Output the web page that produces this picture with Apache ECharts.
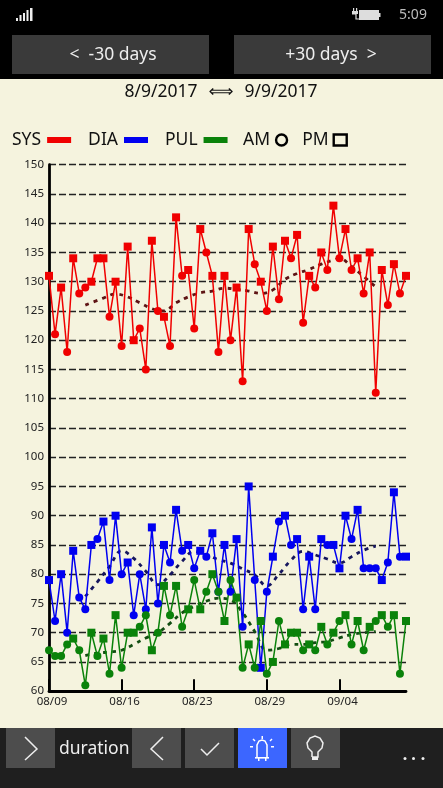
<!DOCTYPE html>
<html><head><meta charset="utf-8">
<style>html,body{margin:0;padding:0;background:#000}#c{width:443px;height:788px}</style>
<script src="https://cdn.jsdelivr.net/npm/echarts@6/dist/echarts.min.js"></script>
</head><body><div id="c"></div>
<script>
const tickLabels = ['08/09','08/16','08/23','08/29','09/04'];
const sys = [131,121,129,118,134,128,129,130,134,134,124,130,119,136,120,122,115,137,125,124,119,141,131,132,122,139,135,131,118,131,120,129,113,139,133,130,125,136,127,137,134,138,123,131,129,135,132,143,134,139,132,134,128,135,111,132,126,133,128,131];
const dia = [79,72,80,70,84,76,74,85,86,89,79,90,80,82,73,80,74,88,75,85,82,91,84,85,81,84,83,87,77,85,77,86,71,95,79,64,77,83,89,90,85,86,74,83,74,86,85,85,81,90,86,91,81,81,81,79,82,94,83,83];
const pul = [67,66,66,68,69,67,61,70,66,69,63,73,64,70,70,71,73,67,70,78,73,78,71,74,79,74,77,80,77,72,79,76,64,68,64,72,63,65,72,68,70,70,67,68,67,71,68,70,72,73,68,72,67,71,72,73,71,73,63,72];
const sysShape = 'scscsccsss' + 'cscsscc' + 'scs' + 'cscscscscs' + 'cscscscscs' + 'cscscscscs' + 'cscscscscs';
const diaShape = 'scscsccscs' + 'cscsccc' + 'scs' + 'cscscscscs' + 'cscscscscs' + 'cscscscsss'.slice(0, 10) + 'csccc' + 'scscs';
const pulShape = 'ccccsccscs' + 'cscsscc' + 'scs' + 'cscscscscs' + 'cscscscscs' + 'sscscscscs' + 'cscscscscs';
const sysAvgIdx = [6,9,11,13,15,17,19,21,23,25,27,29,31,33,35,37,39,41,43,45,47,48,50,52,54];
const sysAvg = [126,127.2,127.9,127.4,126.4,125.4,125,126.4,127.4,128.1,128.4,128.9,128.7,128.4,128,128.6,130.4,131.4,132.1,133,133.7,134,132.6,130.9,129.1];
const diaAvgIdx = [6,8,10,12,14,16,18,20,22,24,26,28,30,32,34,36,38,40,42,44,46,48,50,52,54];
const diaAvg = [76.2,78.7,81.3,84,82.7,80.5,78.2,79.9,82.2,83.9,83.3,82.5,81.9,80.9,79.9,78,80,82.4,83.9,83.3,82.6,81.9,83,84.1,84.8];
const pulAvg = [66.1,66.5,66.7,67,68,69.1,70,71.6,73.4,74.5,75.4,75.9,75.6,73.4,70.2,67,67.3,68,68,68.3,68.5,69.1,69.7,70,70.2];
const categories = sys.map((_, i) => String(i));

const FONT = '"Noto Sans", "Open Sans", sans-serif';
const marks = (vals, shapes) => vals.map((v, i) => ({ value: v, symbol: shapes[i] === 's' ? 'rect' : 'circle' }));
const sparse = (idx, vals) => idx.map((i, k) => [i, vals[k]]);
const lineSeries = (name, vals, shapes, color) => ({
  name, type: 'line', data: marks(vals, shapes), symbolSize: 8, showSymbol: true, showAllSymbol: true, z: 5,
  lineStyle: { color, width: 1.5 }, itemStyle: { color }, silent: true, animation: false
});
const avgSeries = (name, idx, vals, color) => ({
  name, type: 'line', data: sparse(idx, vals), showSymbol: false, symbol: 'none', smooth: 0.4, z: 4,
  lineStyle: { color, width: 2.8, type: [4, 5] }, silent: true, animation: false
});
const txt = (x, y, text, size, fill, align, family) => ({
  type: 'text', x, y, silent: true, z: 20,
  style: { text, fontSize: size, fill, align: align || 'center', verticalAlign: 'middle', fontFamily: family || FONT }
});
const rect = (x, y, w, h, fill, z) => ({ type: 'rect', silent: true, z: z || 10, shape: { x, y, width: w, height: h }, style: { fill } });
const pl = (points, stroke, w) => ({ type: 'polyline', silent: true, z: 20, shape: { points }, style: { stroke, lineWidth: w || 1.5, fill: null } });

const graphics = [
  rect(0, 0, 443, 79, '#000'),
  rect(0, 728, 443, 60, '#1f1f1f'),
  rect(12, 35, 197, 39, '#3a3a3a'),
  rect(234, 35, 197, 39, '#3a3a3a'),
  txt(113, 55, '<  -30 days', 17.5, '#eee'),
  txt(331, 55, '+30 days  >', 17.5, '#eee'),
  rect(16, 18, 2, 3, '#eee'), rect(19.5, 15, 2, 6, '#eee'), rect(23, 13, 2, 8, '#eee'), rect(26.5, 10, 2, 11, '#eee'), rect(30, 8, 2.5, 13, '#eee'),
  rect(359, 10, 20, 10, '#ddd'), rect(379, 13, 1.5, 4, '#ddd'),
  pl([[352, 14], [356, 14], [356, 19], [359, 19]], '#ddd', 1.2),
  rect(353, 8, 1.2, 4, '#ddd'), rect(356, 8, 1.2, 4, '#ddd'), rect(352, 11, 6, 3, '#ddd'),
  txt(413, 15, '5:09', 14, '#bbb'),
  txt(161, 92, '8/9/2017', 17.5, '#111'),
  txt(221, 92, '\u27FA', 17.5, '#111', 'center', '"DejaVu Sans"'),
  txt(281, 92, '9/9/2017', 17.5, '#111'),
  rect(6, 728, 49, 40, '#4d4d4d'), rect(132, 728, 49, 40, '#4d4d4d'), rect(185, 728, 49, 40, '#4d4d4d'),
  rect(238, 728, 49, 40, '#3c66ff'), rect(291, 728, 49, 40, '#4d4d4d'),
  pl([[25, 737], [37, 749], [25, 760]], '#eee'),
  txt(59, 749, 'duration', 17.5, '#eee', 'left'),
  pl([[163, 737], [151, 749], [163, 760]], '#eee'),
  pl([[201, 749], [207, 755], [219, 743]], '#eee'),
  pl([[257, 758], [257, 745], [259, 741], [262, 740], [265, 741], [267, 745], [267, 758]], '#fff'),
  rect(255, 757, 14, 1.6, '#fff'), rect(258, 758, 1.5, 3, '#fff'), rect(265, 758, 1.5, 3, '#fff'),
  rect(250, 746, 3, 1.5, '#fff'), rect(271, 746, 3, 1.5, '#fff'), rect(261.5, 736, 1.5, 3, '#fff'),
  pl([[253, 739], [255, 741]], '#fff'), pl([[272, 739], [270, 741]], '#fff'),
  pl([[312, 757], [312, 752], [308, 748], [307, 743], [310, 738], [315, 736], [320, 738], [323, 743], [322, 748], [318, 752], [318, 757], [312, 757]], '#eee'),
  rect(312, 757, 6, 3, '#eee'),
  { type: 'circle', silent: true, z: 20, shape: { cx: 405, cy: 758.5, r: 1.5 }, style: { fill: '#eee' } },
  { type: 'circle', silent: true, z: 20, shape: { cx: 413.5, cy: 758.5, r: 1.5 }, style: { fill: '#eee' } },
  { type: 'circle', silent: true, z: 20, shape: { cx: 423, cy: 758.5, r: 1.5 }, style: { fill: '#eee' } }
];

const chart = echarts.init(document.getElementById('c'), null, { renderer: 'canvas' });
chart.setOption({
  animation: false,
  backgroundColor: '#f5f3de',
  textStyle: { fontFamily: FONT },
  grid: { left: 49, right: 37, top: 164.7, bottom: 96.8 },
  legend: [
    { left: 12, top: 131, padding: 0, align: 'right', itemWidth: 24, itemHeight: 6, itemGap: 17, selectedMode: false, icon: 'rect',
      textStyle: { fontSize: 17.5, color: '#111', fontFamily: FONT, padding: [0, 1, 0, 0] },
      data: ['SYS', 'DIA', 'PUL'] },
    { left: 243, top: 131, padding: 0, align: 'right', itemWidth: 13, itemHeight: 11, itemGap: 14, selectedMode: false,
      textStyle: { fontSize: 17.5, color: '#111', fontFamily: FONT },
      data: [
        { name: 'AM', icon: 'circle', itemStyle: { color: 'rgba(0,0,0,0)', borderColor: '#000', borderWidth: 2.4 } },
        { name: 'PM', icon: 'rect', itemStyle: { color: 'rgba(0,0,0,0)', borderColor: '#000', borderWidth: 2.4 } }
      ] }
  ],
  xAxis: {
    type: 'category', data: categories, boundaryGap: false,
    axisLine: { lineStyle: { color: '#000', width: 2.8 } },
    axisTick: { show: true, inside: true, length: 12, interval: (i) => i % 12 === 0, lineStyle: { color: '#000', width: 2 } },
    axisLabel: { interval: (i) => i % 12 === 0, formatter: (v, i) => tickLabels[i / 12] || '', fontSize: 11.5, color: '#222', margin: 5, padding: [0, 0, 0, 6], fontFamily: FONT },
    splitLine: { show: false }
  },
  yAxis: {
    type: 'value', min: 60, max: 150, interval: 5,
    axisLine: { show: true, lineStyle: { color: '#000', width: 2.8 } },
    axisTick: { show: false },
    axisLabel: { fontSize: 11.5, color: '#222', margin: 5, padding: [0, 0, 4, 0], fontFamily: FONT },
    splitLine: { show: true, lineStyle: { color: '#222', width: 1.3, type: [7, 3] } }
  },
  series: [
    lineSeries('SYS', sys, sysShape, '#f00000'),
    lineSeries('DIA', dia, diaShape, '#0000f0'),
    lineSeries('PUL', pul, pulShape, '#0a820a'),
    avgSeries('SYS avg', sysAvgIdx, sysAvg, '#5e1414'),
    avgSeries('DIA avg', diaAvgIdx, diaAvg, '#16165e'),
    avgSeries('PUL avg', diaAvgIdx, pulAvg, '#124d12'),
    { name: 'AM', type: 'line', data: [], itemStyle: { color: '#000' } },
    { name: 'PM', type: 'line', data: [], itemStyle: { color: '#000' } }
  ],
  graphic: graphics
});
</script></body></html>
